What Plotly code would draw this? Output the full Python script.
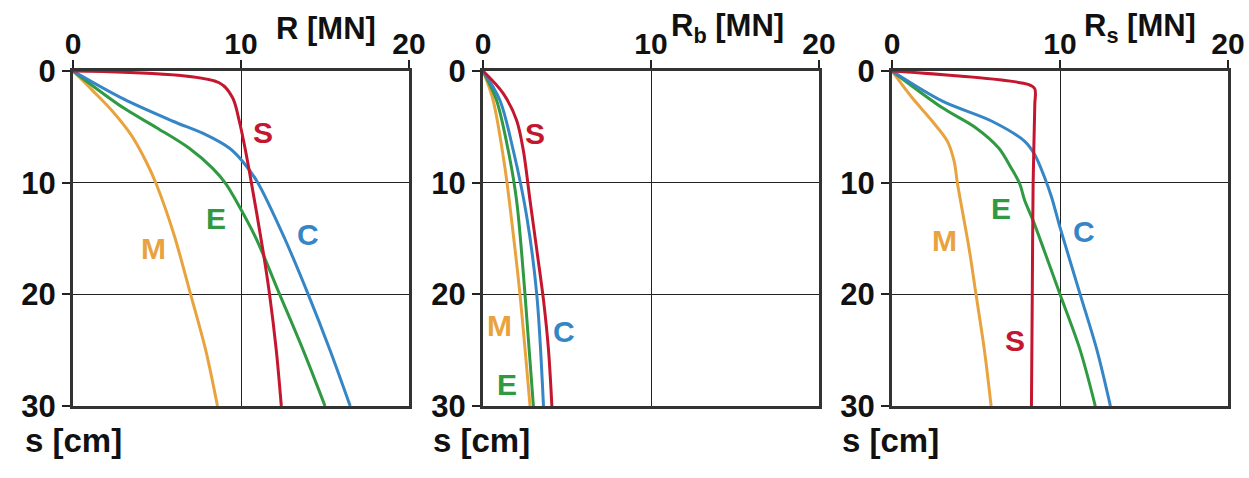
import plotly.graph_objects as go

W, H = 1249, 478

# ---- data: settlement s [cm] vs resistance [MN] ----
# Panel 1: total resistance R
S1_s = [0, 1.05, 2.4, 4.5, 6.6, 9.0, 16, 20, 25, 30]
S1_R = [0, 8.7, 9.5, 9.9, 10.2, 10.5, 11.3, 11.7, 12.1, 12.4]
C1_s = [0, 2.5, 4.5, 5.7, 6.9, 8.1, 10, 15, 20, 25, 30]
C1_R = [0, 3.0, 5.95, 7.9, 9.3, 10.1, 11.0, 12.6, 14.0, 15.3, 16.5]
E1_s = [0, 3.3, 5.1, 6.9, 8.7, 10.1, 11.6, 15, 20, 25, 30]
E1_R = [0, 3.0, 5.0, 6.9, 8.3, 9.1, 9.7, 10.9, 12.3, 13.7, 15.0]
M1_s = [0, 1.8, 3.6, 5.7, 8.1, 10.1, 14.6, 20, 25, 30]
M1_R = [0, 1.2, 2.35, 3.45, 4.35, 4.95, 6.0, 7.0, 7.9, 8.6]

# Panel 2: base resistance Rb
S2_s = [0, 2, 4.4, 7.1, 11.6, 16, 20.5, 25, 30]
S2_R = [0, 1.2, 2.0, 2.4, 2.8, 3.2, 3.6, 3.9, 4.1]
C2_s = [0, 2.6, 7.1, 13, 20, 30]
C2_R = [0, 1.0, 1.8, 2.6, 3.2, 3.6]
E2_s = [0, 2.6, 7.1, 11.6, 20, 30]
E2_R = [0, 0.8, 1.5, 2.0, 2.5, 3.0]
M2_s = [0, 2.6, 8.6, 14.6, 20, 30]
M2_R = [0, 0.6, 1.3, 1.8, 2.2, 2.8]

# Panel 3: shaft resistance Rs
S3_s = [0, 1.2, 1.6, 3.0, 10.1, 20, 30]
S3_R = [0, 8.1, 8.5, 8.5, 8.4, 8.35, 8.3]
C3_s = [0, 2.7, 4.5, 6.3, 7.5, 9.6, 11.3, 14, 20, 25, 30]
C3_R = [0, 3.0, 5.95, 7.9, 8.5, 9.1, 9.5, 10.0, 11.2, 12.2, 13.0]
E3_s = [0, 3.3, 5.1, 6.9, 8.7, 10.1, 11.6, 13.4, 20, 25, 30]
E3_R = [0, 3.0, 5.0, 6.35, 7.1, 7.6, 7.9, 8.4, 10.0, 11.2, 12.1]
M3_s = [0, 2.4, 4.5, 6.3, 8.1, 10.1, 16, 20, 25, 30]
M3_R = [0, 1.2, 2.4, 3.3, 3.7, 3.9, 4.6, 5.0, 5.5, 5.9]

x_ticks = [0, 10, 20]
y_ticks = [0, 10, 20, 30]
titles = ["R [MN]", "R<sub>b</sub> [MN]", "R<sub>s</sub> [MN]"]
y_title = "s [cm]"

# curve labels (R, s) positions per panel
labels = [
    [("S", 11.3, 5.5), ("E", 8.5, 13.2), ("C", 14.0, 14.6), ("M", 4.8, 15.9)],
    [("S", 3.1, 5.6), ("M", 1.0, 22.8), ("C", 4.8, 23.3), ("E", 1.4, 28.1)],
    [("E", 6.5, 12.3), ("M", 3.1, 15.2), ("C", 11.4, 14.4), ("S", 7.3, 24.1)],
]

colors = {"S": "#c4172f", "C": "#3586c6", "E": "#2f9a42", "M": "#e9a33e"}

panels = [
    {"S": (S1_R, S1_s), "C": (C1_R, C1_s), "E": (E1_R, E1_s), "M": (M1_R, M1_s)},
    {"S": (S2_R, S2_s), "C": (C2_R, C2_s), "E": (E2_R, E2_s), "M": (M2_R, M2_s)},
    {"S": (S3_R, S3_s), "C": (C3_R, C3_s), "E": (E3_R, E3_s), "M": (M3_R, M3_s)},
]

# pixel layout
x_px = [(73, 409), (483, 819), (892, 1228)]
y_top, y_bot = 71, 406
ydom = [1 - y_bot / H, 1 - y_top / H]

fig = go.Figure()
font_fam = "Liberation Sans, Arial, sans-serif"

for i, panel in enumerate(panels):
    xa = "x" if i == 0 else f"x{i+1}"
    ya = "y" if i == 0 else f"y{i+1}"
    for key in ["M", "E", "C", "S"]:
        xs, ys = panel[key]
        fig.add_trace(go.Scatter(
            x=xs, y=ys, mode="lines", xaxis=xa, yaxis=ya,
            line=dict(color=colors[key], width=3, shape="spline", smoothing=0.9),
            showlegend=False, hoverinfo="skip"))
    for (t, lx, ly) in labels[i]:
        fig.add_annotation(x=lx, y=ly, xref=xa, yref=ya, text=f"<b>{t}</b>",
                           showarrow=False, xanchor="center", yanchor="middle",
                           font=dict(size=30, color=colors[t], family=font_fam))
    axx = dict(domain=[x_px[i][0] / W, x_px[i][1] / W], range=[0, 20],
               side="top", tickvals=x_ticks, ticktext=[f"<b>{v}</b>" for v in x_ticks],
               ticks="outside", ticklen=8, tickwidth=2, tickcolor="#222",
               ticklabelstandoff=-6,
               showline=True, linewidth=3, linecolor="#333", mirror=True,
               showgrid=True, gridcolor="#222", gridwidth=1.3, zeroline=False,
               tickfont=dict(size=30, color="#111", family=font_fam),
               anchor=ya, fixedrange=True, automargin=False)
    axy = dict(domain=ydom, range=[30, 0], tickvals=y_ticks,
               ticktext=[f"<b>{v}</b>" for v in y_ticks],
               ticks="outside", ticklen=8, tickwidth=2, tickcolor="#222",
               showline=True, linewidth=3, linecolor="#333", mirror=True,
               showgrid=True, gridcolor="#222", gridwidth=1.3, zeroline=False,
               tickfont=dict(size=31, color="#111", family=font_fam),
               anchor=xa, fixedrange=True, automargin=False)
    key_x = "xaxis" if i == 0 else f"xaxis{i+1}"
    key_y = "yaxis" if i == 0 else f"yaxis{i+1}"
    fig.update_layout(**{key_x: axx, key_y: axy})

    # axis titles
    tx = [326, 728, 1140][i]
    fig.add_annotation(x=tx / W, y=1 - 28 / H, xref="paper", yref="paper",
                       text=f"<b>{titles[i]}</b>", showarrow=False,
                       xanchor="center", yanchor="middle",
                       font=dict(size=31, color="#111", family=font_fam))
    sx = [73, 481, 890][i]
    fig.add_annotation(x=sx / W, y=1 - 440 / H, xref="paper", yref="paper",
                       text=f"<b>{y_title}</b>", showarrow=False,
                       xanchor="center", yanchor="middle",
                       font=dict(size=33, color="#111", family=font_fam))

fig.update_layout(width=W, height=H, margin=dict(l=0, r=0, t=0, b=0),
                  paper_bgcolor="white", plot_bgcolor="white")

fig.write_html("out.html", config={"displayModeBar": False},
               post_script="document.body.style.margin='0';document.body.style.overflow='hidden';")
